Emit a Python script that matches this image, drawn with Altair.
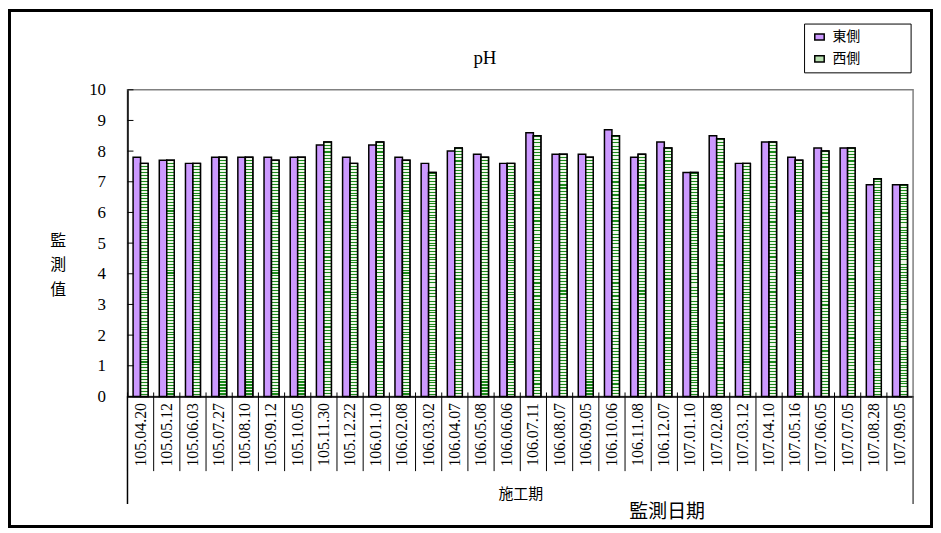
import altair as alt
import pandas as pd

dates = ["105.04.20", "105.05.12", "105.06.03", "105.07.27", "105.08.10", "105.09.12",
         "105.10.05", "105.11.30", "105.12.22", "106.01.10", "106.02.08", "106.03.02",
         "106.04.07", "106.05.08", "106.06.06", "106.07.11", "106.08.07", "106.09.05",
         "106.10.06", "106.11.08", "106.12.07", "107.01.10", "107.02.08", "107.03.12",
         "107.04.10", "107.05.16", "107.06.05", "107.07.05", "107.08.28", "107.09.05"]
east = [7.8, 7.7, 7.6, 7.8, 7.8, 7.8, 7.8, 8.2, 7.8, 8.2, 7.8, 7.6, 8.0, 7.9, 7.6,
        8.6, 7.9, 7.9, 8.7, 7.8, 8.3, 7.3, 8.5, 7.6, 8.3, 7.8, 8.1, 8.1, 6.9, 6.9]
west = [7.6, 7.7, 7.6, 7.8, 7.8, 7.7, 7.8, 8.3, 7.6, 8.3, 7.7, 7.3, 8.1, 7.8, 7.6,
        8.5, 7.9, 7.8, 8.5, 7.9, 8.1, 7.3, 8.4, 7.6, 8.3, 7.7, 8.0, 8.1, 7.1, 6.9]
series = ["東側", "西側"]
yticks = list(range(0, 11))

rows = []
for d, e, w in zip(dates, east, west):
    rows.append({"date": d, "series": series[0], "value": e})
    rows.append({"date": d, "series": series[1], "value": w})
df = pd.DataFrame(rows)
df_west = df[df["series"] == series[1]]
df_dates = pd.DataFrame({"date": dates})
df_ticks = pd.DataFrame({"value": yticks})
one = pd.DataFrame({"t": ["pH"]})

W, H = 789, 308
SERIF = "Liberation Serif"
CJK = "Noto Sans CJK TC"

# striped fill for the west bars
n = 80
stops = []
for k in range(n):
    a = k / n
    b = (k + 0.35) / n
    c = (k + 1) / n
    stops += [{"offset": a, "color": "#1a8a1a"}, {"offset": b, "color": "#1a8a1a"},
              {"offset": b, "color": "#eef8e8"}, {"offset": c, "color": "#eef8e8"}]
stripe = {"gradient": "linear", "x1": 0, "y1": 0, "x2": 0, "y2": 1, "stops": stops}

xscale = alt.Scale(domain=dates, paddingInner=0, paddingOuter=0)
yscale = alt.Scale(domain=[0, 10], nice=False)
offscale = alt.Scale(domain=series, paddingInner=0, paddingOuter=0.75)

x_axis = alt.Axis(title="施工期", labelAngle=270, titleY=102, titleBaseline="alphabetic")
y_axis = alt.Axis(values=yticks, title=["監", "測", "值"], titleAngle=0, titleX=-70, titleY=151,
                  titleAlign="center", titleBaseline="middle", titleLineHeight=25, labelOverlap=False)

bars = alt.Chart(df).mark_bar(stroke="black", strokeWidth=1.5).encode(
    x=alt.X("date:N", scale=xscale, sort=dates, axis=x_axis),
    xOffset=alt.XOffset("series:N", scale=offscale, sort=series),
    y=alt.Y("value:Q", scale=yscale, axis=y_axis),
    fill=alt.Fill("series:N", scale=alt.Scale(domain=series, range=["#CC99FF", "#b8e0b0"]),
                  legend=alt.Legend(title=None, orient="none", legendX=688, legendY=-60,
                                    symbolType="M-1,-0.65H1V0.65H-1Z", symbolSize=90,
                                    symbolStrokeColor="black", symbolStrokeWidth=1.5,
                                    labelFont=CJK, labelFontSize=14, labelColor="black",
                                    labelOffset=6, rowPadding=8, padding=0)),
)

west_bars = alt.Chart(df_west).mark_bar(fill=stripe, stroke="black", strokeWidth=1.5).encode(
    x=alt.X("date:N", scale=xscale, sort=dates, axis=x_axis),
    xOffset=alt.XOffset("series:N", scale=offscale, sort=series),
    y=alt.Y("value:Q", scale=yscale, axis=y_axis),
)

separators = alt.Chart(df_dates).mark_rule(color="black", strokeWidth=1).encode(
    x=alt.X("date:N", scale=xscale, sort=dates, bandPosition=0, axis=x_axis),
    y=alt.value(H - 4),
    y2=alt.value(H + 75),
)

yt = alt.Chart(df_ticks).mark_rule(color="black", strokeWidth=1).encode(
    y=alt.Y("value:Q", scale=yscale, axis=y_axis),
    x=alt.value(0),
    x2=alt.value(6),
)

left_line = alt.Chart(one).mark_rule(color="black", strokeWidth=1.5).encode(
    x=alt.value(0), y=alt.value(H), y2=alt.value(H + 108))
right_line = alt.Chart(one).mark_rule(color="#555555", strokeWidth=1.5).encode(
    x=alt.value(W), y=alt.value(H), y2=alt.value(H + 108))

legend_box = alt.Chart(one).mark_rect(fill="white", fillOpacity=0, stroke="black",
                                      strokeWidth=1).encode(
    x=alt.value(680), x2=alt.value(787), y=alt.value(-66), y2=alt.value(-17))

frame = alt.Chart(one).mark_rect(fillOpacity=0, stroke="black", strokeWidth=3).encode(
    x=alt.value(-118.5), x2=alt.value(807.5), y=alt.value(-79.5), y2=alt.value(438.5))

title = alt.Chart(one).mark_text(font=SERIF, fontSize=19, color="black", align="center",
                                 baseline="middle").encode(
    text="t:N", x=alt.value(359), y=alt.value(-32))

xlabel = alt.Chart(pd.DataFrame({"t": ["監測日期"]})).mark_text(
    font=CJK, fontSize=19, color="black", align="center", baseline="middle").encode(
    text="t:N", x=alt.value(542), y=alt.value(424))

chart = alt.layer(frame, legend_box, bars, west_bars, separators, yt, left_line, right_line,
                  title, xlabel).properties(
    width=W, height=H,
    background="white",
    autosize=alt.AutoSizeParams(type="none"),
    padding={"left": 120, "top": 81, "right": 20, "bottom": 132},
).configure_view(stroke="#808080", strokeWidth=1.5).configure_axisX(
    labelAngle=270, labelFont=SERIF, labelFontSize=16, labelColor="black", labelPadding=6,
    ticks=False, domainColor="black", domainWidth=1.5, titleFont=CJK, titleFontSize=15,
    titleFontWeight="normal", titleColor="black", grid=False
).configure_axisY(
    grid=False, ticks=False, labelFont=SERIF, labelFontSize=17, labelColor="black",
    labelPadding=22, domainColor="black", domainWidth=1.5, titleFont=CJK, titleFontSize=16,
    titleFontWeight="normal", titleColor="black"
)

chart.save("out.html", embed_options={"renderer": "svg", "actions": False})
